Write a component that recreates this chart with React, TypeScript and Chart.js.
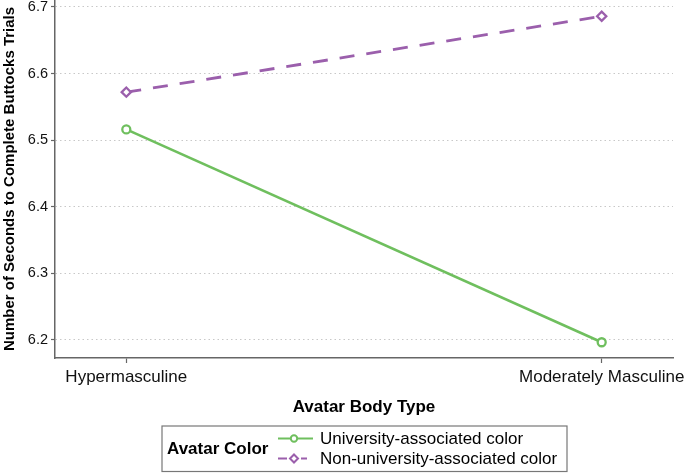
import React, { useEffect, useRef } from "react";
import { Chart, registerables } from "chart.js";

Chart.register(...registerables);

const categories = ["Hypermasculine", "Moderately Masculine"];
const universityValues = [6.516, 6.196];
const nonUniversityValues = [6.572, 6.686];
const yTicks = [6.2, 6.3, 6.4, 6.5, 6.6, 6.7];
const seriesLabels = ["University-associated color", "Non-university-associated color"];
const legendTitle = "Avatar Color";
const xTitle = "Avatar Body Type";
const yTitle = "Number of Seconds to Complete Buttocks Trials";

const GREEN = "#6fbf5e";
const PURPLE = "#9b5fac";
const FONT = '"Liberation Sans", Arial, sans-serif';

const legendPlugin = {
  id: "customLegend",
  afterDraw(chart: any) {
    const ctx = chart.ctx as CanvasRenderingContext2D;
    ctx.save();
    const bx = 162, by = 426, bw = 405, bh = 45.5;
    ctx.strokeStyle = "#777";
    ctx.lineWidth = 1.2;
    ctx.setLineDash([]);
    ctx.strokeRect(bx, by, bw, bh);
    ctx.fillStyle = "#000";
    ctx.textBaseline = "middle";
    ctx.textAlign = "left";
    ctx.font = `bold 17px ${FONT}`;
    ctx.fillText(legendTitle, 167, 449);
    chart.data.datasets.forEach((ds: any, i: number) => {
      const y = 438.5 + i * 20;
      const cx = 294;
      ctx.strokeStyle = ds.borderColor;
      ctx.lineWidth = 2;
      ctx.setLineDash([]);
      ctx.beginPath();
      if (ds.borderDash && ds.borderDash.length) {
        ctx.moveTo(278, y);
        ctx.lineTo(287, y);
        ctx.moveTo(301, y);
        ctx.lineTo(307, y);
      } else {
        ctx.moveTo(278, y);
        ctx.lineTo(313, y);
      }
      ctx.stroke();
      ctx.fillStyle = "#fff";
      ctx.beginPath();
      if (ds.pointStyle === "rectRot") {
        const r = 4;
        ctx.moveTo(cx, y - r);
        ctx.lineTo(cx + r, y);
        ctx.lineTo(cx, y + r);
        ctx.lineTo(cx - r, y);
        ctx.closePath();
      } else {
        ctx.arc(cx, y, 3.2, 0, Math.PI * 2);
      }
      ctx.fill();
      ctx.stroke();
      ctx.fillStyle = "#000";
      ctx.font = `17px ${FONT}`;
      ctx.fillText(ds.label, 320, y + 1);
    });
    ctx.restore();
  },
};

export default function App() {
  const ref = useRef<HTMLCanvasElement | null>(null);
  useEffect(() => {
    if (!ref.current) return;
    const chart = new Chart(ref.current, {
      type: "line",
      data: {
        datasets: [
          {
            label: seriesLabels[0],
            data: categories.map((_, i) => ({ x: i, y: universityValues[i] })),
            borderColor: GREEN,
            backgroundColor: "#fff",
            borderWidth: 2.6,
            pointStyle: "circle",
            pointRadius: 4,
            pointBorderWidth: 2.3,
            pointBackgroundColor: "#fff",
            pointBorderColor: GREEN,
            clip: false,
          } as any,
          {
            label: seriesLabels[1],
            data: categories.map((_, i) => ({ x: i, y: nonUniversityValues[i] })),
            borderColor: PURPLE,
            backgroundColor: "#fff",
            borderWidth: 2.8,
            borderDash: [15, 12],
            pointStyle: "rectRot",
            pointRadius: 4.6,
            pointBorderWidth: 2.3,
            pointBackgroundColor: "#fff",
            pointBorderColor: PURPLE,
            clip: false,
          } as any,
        ],
      },
      options: {
        animation: false,
        responsive: true,
        maintainAspectRatio: false,
        layout: { autoPadding: false, padding: { top: 0, right: 12, bottom: 52, left: 0 } },
        plugins: {
          legend: { display: false },
          tooltip: { enabled: false },
        },
        scales: {
          x: {
            type: "linear",
            min: -0.15,
            max: 1.15,
            afterBuildTicks: (scale: any) => {
              scale.ticks = categories.map((_, i) => ({ value: i }));
            },
            afterFit: (scale: any) => {
              scale.height = 63;
              scale.paddingLeft = 0;
              scale.paddingRight = 0;
            },
            grid: {
              drawOnChartArea: false,
              drawTicks: true,
              tickLength: 5,
              tickColor: "#666",
              tickWidth: 1.2,
            },
            border: { display: true, color: "#666", width: 1.5 },
            ticks: {
              autoSkip: false,
              maxRotation: 0,
              padding: 4,
              color: "#111",
              font: { family: FONT, size: 17 },
              callback: (v: any) => categories[Math.round(Number(v))] ?? "",
            },
            title: {
              display: true,
              text: xTitle,
              color: "#000",
              font: { family: FONT, size: 17, weight: "bold", lineHeight: 1.2 },
              padding: { top: 3, bottom: 3 },
            },
          },
          y: {
            type: "linear",
            min: 6.1723,
            max: 6.7105,
            afterBuildTicks: (scale: any) => {
              scale.ticks = yTicks.map((v) => ({ value: v }));
            },
            afterFit: (scale: any) => {
              scale.width = 55;
              scale.paddingTop = 0;
              scale.paddingBottom = 0;
            },
            grid: {
              drawOnChartArea: true,
              drawTicks: true,
              tickLength: 4,
              tickColor: "#666",
              tickWidth: 1.2,
              tickBorderDash: [],
              color: "#c8c8c8",
              lineWidth: 1,
            },
            border: { display: true, color: "#666", width: 1.5, dash: [1.5, 3] },
            ticks: {
              padding: 3,
              color: "#111",
              font: { family: FONT, size: 14.5 },
              callback: (v: any) => Number(v).toFixed(1),
            },
            title: {
              display: true,
              text: yTitle,
              color: "#000",
              font: { family: FONT, size: 15, weight: "bold", lineHeight: 1.2 },
              padding: { top: 1, bottom: 1 },
            },
          },
        },
      },
      plugins: [legendPlugin],
    });
    return () => chart.destroy();
  }, []);

  return (
    <div style={{ position: "fixed", left: 0, top: 0, width: 685, height: 473, background: "#fff" }}>
      <canvas ref={ref} />
    </div>
  );
}
